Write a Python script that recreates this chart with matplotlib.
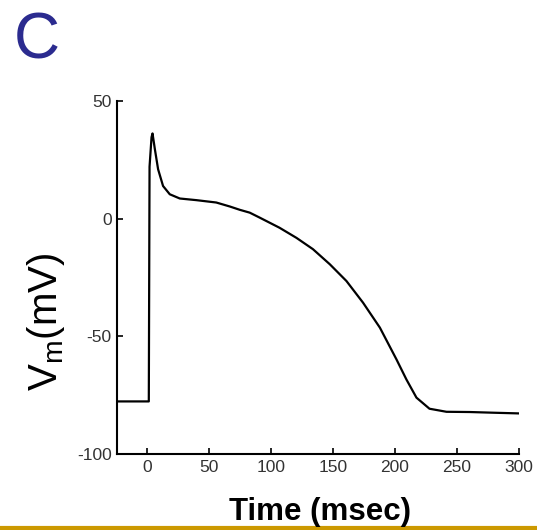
import matplotlib
matplotlib.use("Agg")
import numpy as np
import matplotlib.pyplot as plt

plt.rcParams["font.family"] = ["Liberation Sans", "DejaVu Sans"]
plt.rcParams["mathtext.fontset"] = "custom"
plt.rcParams["mathtext.rm"] = "Liberation Sans"
plt.rcParams["axes.unicode_minus"] = False

# action potential trace (msec, mV)
TIME_MS = [-24, 1.6, 2.2, 3.8, 4.6, 6.5, 9.1, 13.1, 18.5, 26.6, 40, 56, 67, 75,
           83, 91, 107, 120.7, 134, 147.6, 161, 174.4, 188, 201.4,
           209.4, 217.5, 228, 241.7, 260.5, 280, 301]
VM_MV   = [-77.6, -77.6, 22, 34.5, 36.1, 29.4, 20.9, 13.8, 10.3, 8.5, 7.8, 6.8,
           5.1, 3.7, 2.5, 0.4, -3.9, -8.2, -13.0, -19.4, -26.5, -35.7,
           -46.3, -59.8, -68.3, -76.0, -80.7, -82.0, -82.1, -82.4, -82.7]

X_TICKS = [0, 50, 100, 150, 200, 250, 300]
Y_TICKS = [-100, -50, 0, 50]

fig = plt.figure(figsize=(5.37, 5.30), dpi=100)
ax = fig.add_axes([0.218, 0.143, 0.748, 0.667])

ax.plot(TIME_MS, VM_MV, color="black", linewidth=1.6,
        solid_joinstyle="round", solid_capstyle="round")

ax.set_xlim(-24, 300)
ax.set_ylim(-100, 50)
ax.set_xticks(X_TICKS)
ax.set_yticks(Y_TICKS)
ax.tick_params(direction="in", length=4, width=1.2, labelsize=12.5,
               labelcolor="#333333", pad=4)
for side in ("top", "right"):
    ax.spines[side].set_visible(False)
for side in ("left", "bottom"):
    ax.spines[side].set_linewidth(1.5)

fig.text(0.596, 0.034, "Time (msec)", fontsize=22.5, fontweight="bold",
         ha="center", va="center")
fig.text(0.086, 0.392, r"V$_\mathrm{m}$(mV)", fontsize=29, rotation=90,
         ha="center", va="center")

# panel letter
fig.text(0.026, 0.978, "C", fontsize=46, color="#2B2B8F", ha="left", va="top")

# gold rule at the bottom of the slide
fig.add_artist(plt.Line2D([0, 1], [0.003, 0.003], color="#CC9900",
                          linewidth=3, transform=fig.transFigure))

fig.savefig("out.png", dpi=100)
